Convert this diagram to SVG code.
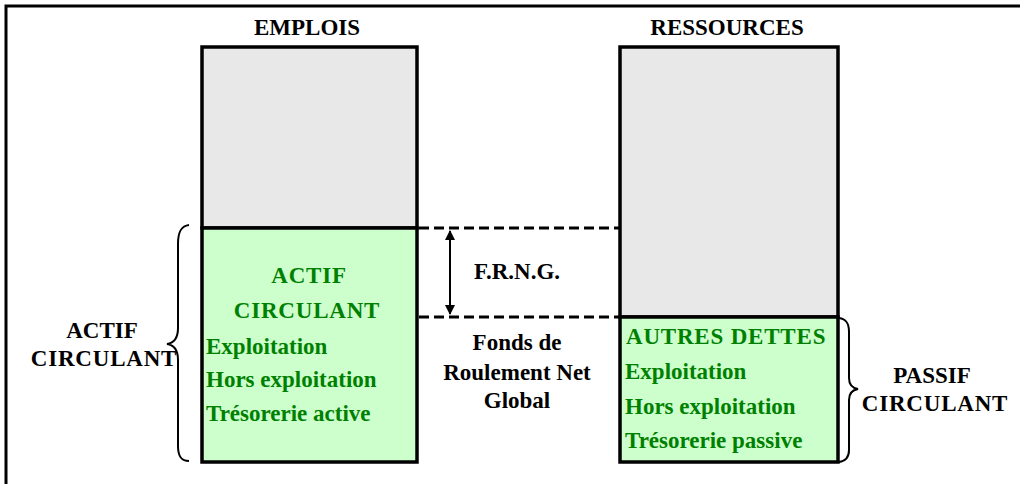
<svg xmlns="http://www.w3.org/2000/svg" width="1020" height="484" viewBox="0 0 1020 484">
<style>
.t{font-family:"Liberation Serif","Times New Roman",serif;font-weight:700;font-size:23px;fill:#000}
.g{font-family:"Liberation Serif","Times New Roman",serif;font-weight:700;font-size:23px;fill:#008000}
.caps{letter-spacing:0.8px}
.box{stroke:#000;stroke-width:3.5}
.dash{stroke:#000;stroke-width:3;stroke-dasharray:10 5;fill:none}
.brace{stroke:#000;stroke-width:2;fill:none}
</style>
<defs>
<marker id="ah" viewBox="0 0 10 10" refX="9" refY="5" markerWidth="5" markerHeight="5" orient="auto-start-reverse" markerUnits="strokeWidth">
<path d="M0,0 L10,5 L0,10 z" fill="#000"/>
</marker>
</defs>
<rect width="1020" height="484" fill="#fff"/>
<rect x="6" y="6" width="1030" height="500" fill="none" stroke="#000" stroke-width="3"/>
<g id="titles">
<text class="t" x="307" y="35" text-anchor="middle">EMPLOIS</text>
<text class="t" x="727" y="35" text-anchor="middle">RESSOURCES</text>
</g>
<g id="emplois">
<rect class="box" x="202" y="47" width="215" height="181" fill="#e8e8e8"/>
<rect class="box" x="202" y="228" width="215" height="234" fill="#ccffcc"/>
<text class="g caps" x="309" y="283" text-anchor="middle">ACTIF</text>
<text class="g caps" x="307" y="318" text-anchor="middle">CIRCULANT</text>
<text class="g" x="206" y="354">Exploitation</text>
<text class="g" x="206" y="387">Hors exploitation</text>
<text class="g" x="206" y="421">Trésorerie active</text>
</g>
<g id="ressources">
<rect class="box" x="620" y="47" width="218" height="270" fill="#e8e8e8"/>
<rect class="box" x="620" y="317" width="218" height="145" fill="#ccffcc"/>
<text class="g caps" x="626" y="344">AUTRES DETTES</text>
<text class="g" x="625" y="379">Exploitation</text>
<text class="g" x="625" y="414">Hors exploitation</text>
<text class="g" x="625" y="448">Trésorerie passive</text>
</g>
<g id="actif-circulant">
<text class="t" x="102" y="338" text-anchor="middle">ACTIF</text>
<text class="t caps" x="104" y="366" text-anchor="middle">CIRCULANT</text>
</g>
<g id="passif-circulant">
<text class="t" x="932" y="383" text-anchor="middle">PASSIF</text>
<text class="t caps" x="935" y="411" text-anchor="middle">CIRCULANT</text>
</g>
<g id="frng">
<text class="t" x="517" y="279" text-anchor="middle">F.R.N.G.</text>
<text class="t" x="517" y="350" text-anchor="middle">Fonds de</text>
<text class="t" x="517" y="380" text-anchor="middle">Roulement Net</text>
<text class="t" x="517" y="408" text-anchor="middle">Global</text>
</g>
<g id="connectors">
<line class="dash" x1="419" y1="228" x2="620" y2="228"/>
<line class="dash" x1="419" y1="317" x2="620" y2="317"/>
<line x1="450" y1="231" x2="450" y2="314" stroke="#000" stroke-width="2" marker-start="url(#ah)" marker-end="url(#ah)"/>
<path class="brace" d="M189,225 C181,226 178,232 178,244 L178,328 C178,338 174,343 167,344 C174,345 178,350 178,360 L178,446 C178,456 181,461 189,461"/>
<path class="brace" d="M839,318 C846,319 849,323 849,332 L849,378 C849,384 852,388 858,389 C852,390 849,394 849,400 L849,450 C849,457 846,461 839,462"/>
</g>
</svg>
